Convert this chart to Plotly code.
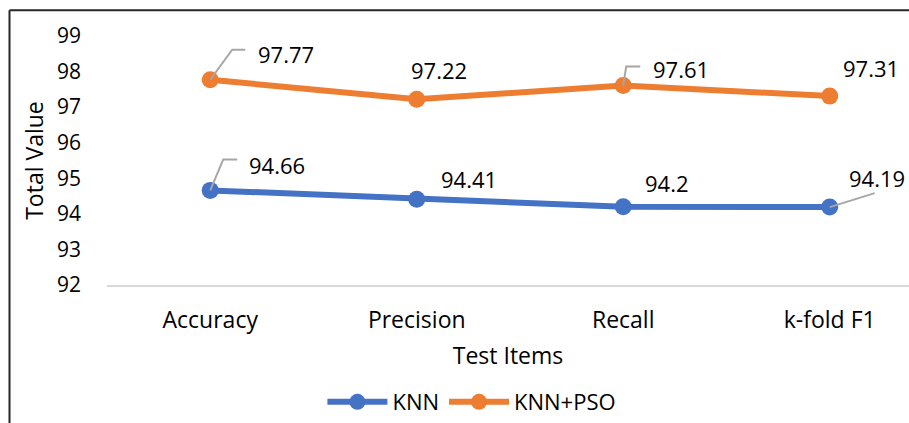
import plotly.graph_objects as go

# Test items and scores
categories = ["Accuracy", "Precision", "Recall", "k-fold F1"]
knn = [94.66, 94.41, 94.2, 94.19]
knn_pso = [97.77, 97.22, 97.61, 97.31]
series_names = ["KNN", "KNN+PSO"]
y_ticks = [92, 93, 94, 95, 96, 97, 98, 99]

BLUE = "#4472C4"
ORANGE = "#ED7D31"
FONT = "Open Sans"
W, H = 909, 423
M_L, M_R, M_T, M_B = 107, 0, 36, 136

fig = go.Figure()
for name, vals, col in [(series_names[0], knn, BLUE), (series_names[1], knn_pso, ORANGE)]:
    fig.add_trace(go.Scatter(
        x=categories, y=vals, name=name, mode="lines+markers",
        line=dict(color=col, width=6),
        marker=dict(color=col, size=17),
        cliponaxis=False,
    ))

# data label pixel offsets (dx right, dy up) and leader paths (pixels, relative to point)
label_offsets = {
    "KNN": [(37, 25), (22, 20), (20, 24), (17, 29)],
    "KNN+PSO": [(46, 26), (-8, 29), (28, 16), (11, 28)],
}
leaders = {
    ("KNN", 0): [(0, 0), (13, 31), (27, 31)],
    ("KNN+PSO", 0): [(0, 0), (22, 30), (35, 30)],
    ("KNN+PSO", 2): [(0, 0), (3, 19), (17, 19)],
    ("KNN", 3): [(0, 0), (45, 14)],
}

for name, vals in [(series_names[0], knn), (series_names[1], knn_pso)]:
    for i, v in enumerate(vals):
        dx, dy = label_offsets[name][i]
        fig.add_annotation(
            x=categories[i], y=v, xref="x", yref="y", text=f"{v:g}",
            showarrow=False, xanchor="left", yanchor="middle",
            xshift=dx, yshift=dy,
            font=dict(family=FONT, size=22, color="#000000"),
        )
        pts = leaders.get((name, i))
        if pts:
            path = "M " + " L ".join(f"{px},{py}" for px, py in pts)
            fig.add_shape(
                type="path", path=path, xref="x", yref="y",
                xsizemode="pixel", ysizemode="pixel",
                xanchor=categories[i], yanchor=v,
                line=dict(color="#A6A6A6", width=2),
            )

# chart frame (left and top edges)
plot_w = W - M_L - M_R
plot_h = H - M_T - M_B
fx = (9.5 - M_L) / plot_w
fy_top = 1 + (M_T - 10) / plot_h
fy_bot = -(M_B + 5) / plot_h
fig.add_shape(type="line", xref="paper", yref="paper", x0=fx, x1=fx, y0=fy_bot, y1=fy_top,
              line=dict(color="#262626", width=2))
fig.add_shape(type="line", xref="paper", yref="paper", x0=fx, x1=1.05, y0=fy_top, y1=fy_top,
              line=dict(color="#262626", width=2))

fig.update_layout(
    width=W, height=H,
    margin=dict(l=M_L, r=M_R, t=M_T, b=M_B),
    paper_bgcolor="white", plot_bgcolor="white",
    font=dict(family=FONT, size=22, color="#000000"),
    showlegend=True,
    legend=dict(
        orientation="h", x=0.455, xanchor="center", y=-0.47, yanchor="middle",
        font=dict(family=FONT, size=22), itemwidth=60,
    ),
    xaxis=dict(
        type="category", range=[-0.5, 3.384],
        showgrid=False, showline=True, linecolor="#D9D9D9", linewidth=2,
        ticks="", ticklabelstandoff=13, zeroline=False,
        tickfont=dict(family=FONT, size=23),
        title=dict(text="Test Items", font=dict(family=FONT, size=23), standoff=14),
    ),
    yaxis=dict(
        range=[92, 99], tickvals=y_ticks, showgrid=False, showline=False, zeroline=False,
        ticks="", ticklabelstandoff=25,
        tickfont=dict(family=FONT, size=21),
        title=dict(text="Total Value", font=dict(family=FONT, size=23), standoff=6),
    ),
)

fig.write_html("out.html")
